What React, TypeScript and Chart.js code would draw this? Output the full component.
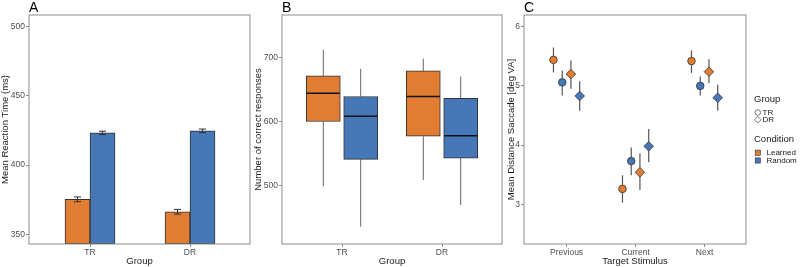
import { useEffect, useRef } from "react";
import { Chart, registerables } from "chart.js";

Chart.register(...registerables);

const FONT = "'Liberation Sans', Arial, Helvetica, sans-serif";
const ORANGE = "#E17C33";
const BLUE = "#4677B6";
const FRAME = "#8c8c8c";
const TICK_TEXT = "#4d4d4d";
const INK = "#1a1a1a";
const EDGE = "#333333";

// A: mean reaction time per group
const groups = ["TR", "DR"];
const rtLearned = [375.3, 366.3];
const rtRandom = [423.3, 424.8];
const rtLearnedErr = [1.7, 1.7];
const rtRandomErr = [1.2, 1.3];
const rtTicks = [350, 400, 450, 500];

// B: correct responses, [lower whisker, q1, median, q3, upper whisker]
const correctLearned = [
  [499, 600, 644, 671, 712],
  [509, 577, 639, 679, 698],
];
const correctRandom = [
  [436, 541, 608, 639, 682],
  [470, 543, 578, 636, 670],
];
const correctTicks = [500, 600, 700];

// C: saccade distance by target stimulus
const stimuli = ["Previous", "Current", "Next"];
const trLearned = [5.44, 3.26, 5.42];
const trLearnedLow = [5.23, 3.03, 5.22];
const trLearnedHigh = [5.65, 3.49, 5.6];
const trRandom = [5.06, 3.73, 5.0];
const trRandomLow = [4.84, 3.49, 4.84];
const trRandomHigh = [5.26, 3.96, 5.16];
const drLearned = [5.2, 3.54, 5.24];
const drLearnedLow = [4.95, 3.24, 5.05];
const drLearnedHigh = [5.43, 3.86, 5.45];
const drRandom = [4.83, 3.98, 4.8];
const drRandomLow = [4.58, 3.71, 4.58];
const drRandomHigh = [5.08, 4.27, 5.02];
const saccadeTicks = [3, 4, 5, 6];

const tickFont = { family: FONT, size: 8.5 };
const titleFont = { family: FONT, size: 9.5 };

function yAxis(min: number, max: number, ticks: number[], title: string, width: number) {
  return {
    type: "linear",
    min,
    max,
    afterBuildTicks: (s: any) => {
      s.ticks = ticks.map((v) => ({ value: v }));
    },
    afterFit: (s: any) => {
      s.width = width;
    },
    grid: { drawOnChartArea: false, color: FRAME, tickLength: 3, offset: false },
    border: { display: false },
    ticks: { color: TICK_TEXT, font: tickFont, padding: 1 },
    title: { display: true, text: title, color: INK, font: titleFont, padding: 0 },
  };
}

function xAxis(min: number, max: number, labels: string[], title: string) {
  return {
    type: "linear",
    min,
    max,
    offset: false,
    afterBuildTicks: (s: any) => {
      s.ticks = labels.map((_, i) => ({ value: i + 1 }));
    },
    afterFit: (s: any) => {
      s.height = 23;
    },
    grid: { drawOnChartArea: false, color: FRAME, tickLength: 3, offset: false },
    border: { display: false },
    ticks: {
      color: TICK_TEXT,
      font: tickFont,
      padding: 1,
      maxRotation: 0,
      autoSkip: false,
      callback: (v: any) => labels[Math.round(Number(v)) - 1] ?? "",
    },
    title: { display: true, text: title, color: INK, font: titleFont, padding: 0 },
  };
}

// Panel frame and panel letter
const framePlugin = {
  id: "panelFrame",
  afterDraw(chart: any, _args: any, opts: any) {
    const { ctx, chartArea: a } = chart;
    ctx.save();
    ctx.strokeStyle = FRAME;
    ctx.lineWidth = 1;
    ctx.strokeRect(a.left, a.top, a.right - a.left, a.bottom - a.top);
    ctx.fillStyle = "#000";
    ctx.font = `14px ${FONT}`;
    ctx.textAlign = "left";
    ctx.textBaseline = "alphabetic";
    ctx.fillText(opts.letter, a.left, 12);
    ctx.restore();
  },
};

// Standard-error bars on top of the bars
const barErrorPlugin = {
  id: "barErrors",
  afterDatasetsDraw(chart: any) {
    const { ctx } = chart;
    const y = chart.scales.y;
    ctx.save();
    ctx.strokeStyle = EDGE;
    ctx.lineWidth = 1;
    chart.data.datasets.forEach((ds: any, i: number) => {
      const meta = chart.getDatasetMeta(i);
      meta.data.forEach((el: any, j: number) => {
        const v = ds.data[j].y;
        const e = ds.errors[j];
        const top = y.getPixelForValue(v + e);
        const bot = y.getPixelForValue(v - e);
        ctx.beginPath();
        ctx.moveTo(el.x, top);
        ctx.lineTo(el.x, bot);
        ctx.moveTo(el.x - 3.5, top);
        ctx.lineTo(el.x + 3.5, top);
        ctx.moveTo(el.x - 3.5, bot);
        ctx.lineTo(el.x + 3.5, bot);
        ctx.stroke();
      });
    });
    ctx.restore();
  },
};

// Whiskers behind the boxes, medians on top
const boxPlugin = {
  id: "boxParts",
  beforeDatasetsDraw(chart: any) {
    const { ctx } = chart;
    const y = chart.scales.y;
    ctx.save();
    ctx.strokeStyle = "#666";
    ctx.lineWidth = 1;
    chart.data.datasets.forEach((ds: any, i: number) => {
      const meta = chart.getDatasetMeta(i);
      meta.data.forEach((el: any, j: number) => {
        const [lo, q1, , q3, hi] = ds.stats[j];
        ctx.beginPath();
        ctx.moveTo(el.x, y.getPixelForValue(hi));
        ctx.lineTo(el.x, y.getPixelForValue(q3));
        ctx.moveTo(el.x, y.getPixelForValue(q1));
        ctx.lineTo(el.x, y.getPixelForValue(lo));
        ctx.stroke();
      });
    });
    ctx.restore();
  },
  afterDatasetsDraw(chart: any) {
    const { ctx } = chart;
    const y = chart.scales.y;
    ctx.save();
    ctx.strokeStyle = "#111";
    ctx.lineWidth = 1.5;
    chart.data.datasets.forEach((ds: any, i: number) => {
      const meta = chart.getDatasetMeta(i);
      meta.data.forEach((el: any, j: number) => {
        const med = y.getPixelForValue(ds.stats[j][2]);
        const half = el.width / 2;
        ctx.beginPath();
        ctx.moveTo(el.x - half + 0.5, med);
        ctx.lineTo(el.x + half - 0.5, med);
        ctx.stroke();
      });
    });
    ctx.restore();
  },
};

// Interval bars behind the points, plus the legend
const pointErrorPlugin = {
  id: "pointErrors",
  beforeDatasetsDraw(chart: any) {
    const { ctx } = chart;
    const y = chart.scales.y;
    ctx.save();
    ctx.strokeStyle = "#555";
    ctx.lineWidth = 1.2;
    chart.data.datasets.forEach((ds: any, i: number) => {
      const meta = chart.getDatasetMeta(i);
      meta.data.forEach((el: any, j: number) => {
        ctx.beginPath();
        ctx.moveTo(el.x, y.getPixelForValue(ds.high[j]));
        ctx.lineTo(el.x, y.getPixelForValue(ds.low[j]));
        ctx.stroke();
      });
    });
    ctx.restore();
  },
  afterDraw(chart: any) {
    const { ctx, chartArea: a } = chart;
    const x0 = a.right + 8;
    ctx.save();
    ctx.textAlign = "left";
    ctx.textBaseline = "middle";
    ctx.fillStyle = INK;
    ctx.font = `9.5px ${FONT}`;
    ctx.fillText("Group", x0, 99);
    ctx.fillText("Condition", x0, 139.5);
    ctx.font = `8px ${FONT}`;
    ctx.fillText("TR", x0 + 8.5, 112.5);
    ctx.fillText("DR", x0 + 8.5, 119.8);
    ctx.fillText("Learned", x0 + 12.5, 152.7);
    ctx.fillText("Random", x0 + 12.5, 160.5);

    const kx = x0 + 3.8;
    ctx.strokeStyle = "#555";
    ctx.lineWidth = 0.8;
    ctx.beginPath();
    ctx.arc(kx, 112.5, 2.8, 0, Math.PI * 2);
    ctx.stroke();
    ctx.beginPath();
    ctx.moveTo(kx - 3.3, 119.8);
    ctx.lineTo(kx, 116.5);
    ctx.lineTo(kx + 3.3, 119.8);
    ctx.lineTo(kx, 123.1);
    ctx.closePath();
    ctx.stroke();

    ctx.strokeStyle = EDGE;
    ctx.lineWidth = 0.6;
    ctx.fillStyle = ORANGE;
    ctx.fillRect(kx - 2.6, 150.1, 5.2, 5.2);
    ctx.strokeRect(kx - 2.6, 150.1, 5.2, 5.2);
    ctx.fillStyle = BLUE;
    ctx.fillRect(kx - 2.6, 157.9, 5.2, 5.2);
    ctx.strokeRect(kx - 2.6, 157.9, 5.2, 5.2);
    ctx.restore();
  },
};

const base = {
  responsive: false,
  animation: false as const,
  events: [] as any[],
};

function useChart(ref: any, make: () => any) {
  useEffect(() => {
    const chart = new Chart(ref.current, make());
    return () => chart.destroy();
  }, []);
}

const RT_MIN = 343;
const BAR_OFFSET = 0.125;
const BOX_OFFSET = 0.187;
const POINT_OFFSETS = [-0.19, -0.063, 0.063, 0.19];

export default function App() {
  const refA = useRef<HTMLCanvasElement>(null);
  const refB = useRef<HTMLCanvasElement>(null);
  const refC = useRef<HTMLCanvasElement>(null);

  useChart(refA, () => ({
    type: "bar",
    data: {
      datasets: [
        {
          label: "Learned",
          data: rtLearned.map((v, i) => ({ x: i + 1 - BAR_OFFSET, y: v })),
          errors: rtLearnedErr,
          backgroundColor: ORANGE,
        },
        {
          label: "Random",
          data: rtRandom.map((v, i) => ({ x: i + 1 + BAR_OFFSET, y: v })),
          errors: rtRandomErr,
          backgroundColor: BLUE,
        },
      ].map((d) => ({
        ...d,
        borderColor: EDGE,
        borderWidth: 1,
        borderSkipped: false,
        base: RT_MIN,
        barThickness: 25,
        grouped: false,
      })),
    },
    options: {
      ...base,
      layout: { padding: { top: 15, right: 3, left: 0, bottom: 0 } },
      plugins: { legend: { display: false }, tooltip: { enabled: false }, panelFrame: { letter: "A" } },
      scales: {
        x: xAxis(0.39, 2.6, groups, "Group"),
        y: yAxis(RT_MIN, 508.5, rtTicks, "Mean Reaction Time (ms)", 29),
      },
    },
    plugins: [barErrorPlugin, framePlugin],
  }));

  useChart(refB, () => ({
    type: "bar",
    data: {
      datasets: [
        {
          label: "Learned",
          data: correctLearned.map((s, i) => ({ x: i + 1 - BOX_OFFSET, y: [s[1], s[3]] })),
          stats: correctLearned,
          backgroundColor: ORANGE,
        },
        {
          label: "Random",
          data: correctRandom.map((s, i) => ({ x: i + 1 + BOX_OFFSET, y: [s[1], s[3]] })),
          stats: correctRandom,
          backgroundColor: BLUE,
        },
      ].map((d) => ({
        ...d,
        borderColor: EDGE,
        borderWidth: 1,
        borderSkipped: false,
        barThickness: 34,
        grouped: false,
      })),
    },
    options: {
      ...base,
      layout: { padding: { top: 15, right: 4, left: 0, bottom: 0 } },
      plugins: { legend: { display: false }, tooltip: { enabled: false }, panelFrame: { letter: "B" } },
      scales: {
        x: xAxis(0.4, 2.6, groups, "Group"),
        y: yAxis(409.2, 765.9, correctTicks, "Number of correct responses", 29),
      },
    },
    plugins: [boxPlugin, framePlugin],
  }));

  useChart(refC, () => {
    const series = [
      { label: "TR Learned", mean: trLearned, low: trLearnedLow, high: trLearnedHigh, color: ORANGE, style: "circle", r: 3.8 },
      { label: "TR Random", mean: trRandom, low: trRandomLow, high: trRandomHigh, color: BLUE, style: "circle", r: 3.8 },
      { label: "DR Learned", mean: drLearned, low: drLearnedLow, high: drLearnedHigh, color: ORANGE, style: "rectRot", r: 4.8 },
      { label: "DR Random", mean: drRandom, low: drRandomLow, high: drRandomHigh, color: BLUE, style: "rectRot", r: 4.8 },
    ];
    return {
      type: "scatter",
      data: {
        datasets: series.map((s, k) => ({
          label: s.label,
          data: s.mean.map((v, i) => ({ x: i + 1 + POINT_OFFSETS[k], y: v })),
          low: s.low,
          high: s.high,
          pointStyle: s.style,
          pointRadius: s.r,
          backgroundColor: s.color,
          borderColor: EDGE,
          borderWidth: 0.8,
        })),
      },
      options: {
        ...base,
        layout: { padding: { top: 15, right: 54, left: 0, bottom: 0 } },
        plugins: { legend: { display: false }, tooltip: { enabled: false }, panelFrame: { letter: "C" } },
        scales: {
          x: xAxis(0.383, 3.6, stimuli, "Target Stimulus"),
          y: yAxis(2.329, 6.198, saccadeTicks, "Mean Distance Saccade [deg VA]", 18),
        },
      },
      plugins: [pointErrorPlugin, framePlugin],
    };
  });

  const canvasStyle = (left: number, width: number): any => ({
    position: "absolute",
    left,
    top: 0,
    width,
    height: 267,
  });

  return (
    <div style={{ position: "fixed", left: 0, top: 0, width: 800, height: 267, background: "#fff" }}>
      <canvas ref={refA} width={253} height={267} style={canvasStyle(0, 253)} />
      <canvas ref={refB} width={253} height={267} style={canvasStyle(253, 253)} />
      <canvas ref={refC} width={294} height={267} style={canvasStyle(506, 294)} />
    </div>
  );
}
